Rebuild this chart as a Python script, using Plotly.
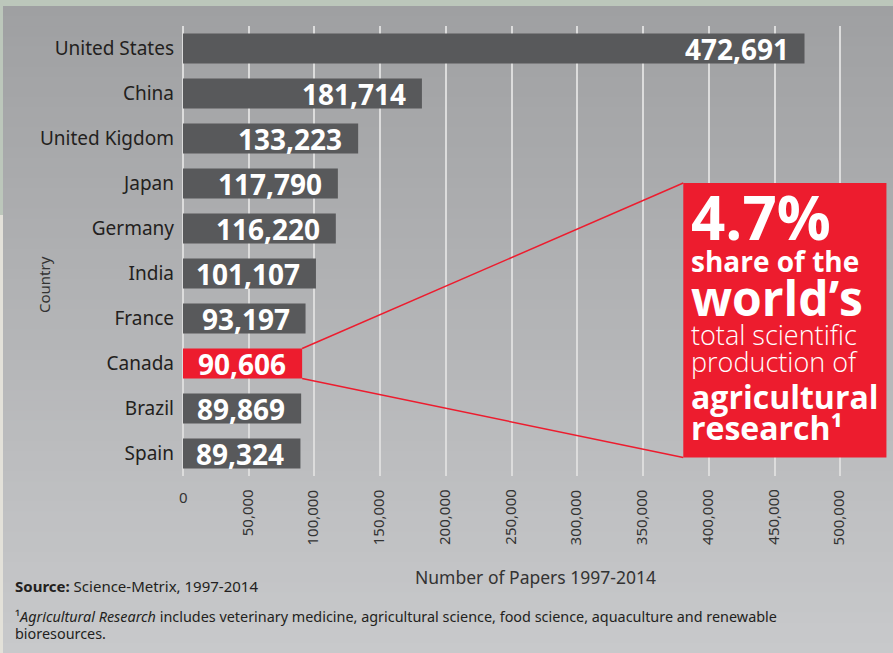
import plotly.graph_objects as go

countries = ["United States", "China", "United Kigdom", "Japan", "Germany",
             "India", "France", "Canada", "Brazil", "Spain"]
papers = [472691, 181714, 133223, 117790, 116220, 101107, 93197, 90606, 89869, 89324]
highlight = "Canada"
tick_vals = [0, 50000, 100000, 150000, 200000, 250000, 300000, 350000, 400000, 450000, 500000]
tick_text = ["0", "50,000", "100,000", "150,000", "200,000", "250,000",
             "300,000", "350,000", "400,000", "450,000", "500,000"]
callout_lines = [
    ("4.7%", 60, 700),
    ("share of the", 28, 700),
    ("world’s", 48, 700),
    ("total scientific", 27, 300),
    ("production of", 27, 300),
    ("agricultural", 32, 700),
    ("research¹", 32, 700),
]

W, H = 893, 653
L, R, T, B = 183, 0, 26, 177
PW, PH = W - L - R, H - T - B
XMAX = 540000


def fx(px):
    return (px - L) / PW


def fy(py):
    return (H - B - py) / PH


GRAY = "#58595b"
RED = "#ed1c2e"
bar_colors = [RED if c == highlight else GRAY for c in countries]
BOLD_FONT = "Open Sans, Lato, sans-serif"
TXT_FONT = "Noto Sans, Open Sans, sans-serif"

fig = go.Figure()
fig.add_trace(go.Bar(
    x=papers, y=countries, orientation="h", width=0.667,
    marker=dict(color=bar_colors, line=dict(width=0)),
    hoverinfo="skip",
))

shapes = []
# left edge strip (outer page)
shapes.append(dict(type="rect", xref="paper", yref="paper", layer="below",
                   x0=fx(-2), x1=fx(3), y0=fy(215), y1=fy(H + 2),
                   line=dict(width=0), fillcolor="#e3e1d9"))
# gradient background panel
n = 64
top_c = (159, 160, 162)
bot_c = (200, 201, 203)
y_start, y_end = 6, H
step = (y_end - y_start) / n
for i in range(n):
    t = i / (n - 1)
    c = tuple(round(top_c[k] + (bot_c[k] - top_c[k]) * t) for k in range(3))
    shapes.append(dict(type="rect", xref="paper", yref="paper", layer="below",
                       x0=fx(3), x1=fx(W + 2),
                       y0=fy(y_start + i * step), y1=fy(y_start + (i + 1) * step + 1),
                       line=dict(width=0), fillcolor="rgb(%d,%d,%d)" % c))

# callout box and connector lines
ci = countries.index(highlight)
cv = papers[ci]
box_x0, box_x1 = 380500, 535000
box_y0, box_y1 = 2.99, 9.09
shapes.append(dict(type="rect", xref="x", yref="y", x0=box_x0, x1=box_x1,
                   y0=box_y0, y1=box_y1, fillcolor=RED, line=dict(width=0), layer="above"))
shapes.append(dict(type="line", xref="x", yref="y", x0=cv, y0=ci - 0.333,
                   x1=box_x0, y1=box_y0, line=dict(color=RED, width=1.5)))
shapes.append(dict(type="line", xref="x", yref="y", x0=cv, y0=ci + 0.333,
                   x1=box_x0, y1=box_y1, line=dict(color=RED, width=1.5)))

annotations = []
# value labels
for c, v in zip(countries, papers):
    annotations.append(dict(x=v, y=c, xref="x", yref="y", text=f"{v:,}",
                            xanchor="right", yanchor="middle", xshift=-14, showarrow=False,
                            font=dict(family=BOLD_FONT, size=28, color="white", weight=700)))
# x tick labels
for v, t in zip(tick_vals, tick_text):
    if v == 0:
        annotations.append(dict(x=v, y=fy(485), xref="x", yref="paper", text=t,
                                xanchor="center", yanchor="top", showarrow=False,
                                font=dict(family=TXT_FONT, size=15, color="#333333")))
    else:
        annotations.append(dict(x=v, y=fy(487), xref="x", yref="paper", text=t,
                                textangle=-90, xanchor="center", yanchor="top", xshift=-2,
                                showarrow=False,
                                font=dict(family=TXT_FONT, size=15, color="#333333")))
# axis titles
annotations.append(dict(x=fx(535), y=fy(577), xref="paper", yref="paper",
                        text="Number of Papers 1997-2014", showarrow=False,
                        xanchor="center", yanchor="middle",
                        font=dict(family=TXT_FONT, size=17.5, color="#333333")))
annotations.append(dict(x=fx(44), y=fy(285), xref="paper", yref="paper",
                        text="Country", textangle=-90, showarrow=False,
                        xanchor="center", yanchor="middle",
                        font=dict(family=TXT_FONT, size=15, color="#333333")))
# source and footnote
annotations.append(dict(x=fx(13), y=fy(586), xref="paper", yref="paper",
                        text="<b>Source:</b> Science-Metrix, 1997-2014", showarrow=False,
                        xanchor="left", yanchor="middle",
                        font=dict(family=TXT_FONT, size=15, color="#231f20")))
annotations.append(dict(x=fx(13), y=fy(616), xref="paper", yref="paper",
                        text="¹<i>Agricultural Research</i> includes veterinary medicine, "
                             "agricultural science, food science, aquaculture and renewable",
                        showarrow=False, xanchor="left", yanchor="middle",
                        font=dict(family=TXT_FONT, size=14.4, color="#231f20")))
annotations.append(dict(x=fx(13), y=fy(633), xref="paper", yref="paper",
                        text="bioresources.", showarrow=False, xanchor="left", yanchor="middle",
                        font=dict(family=TXT_FONT, size=14.4, color="#231f20")))
# callout text
line_y = [217, 261, 297, 334, 361, 396, 427]
for (txt, sz, wt), py in zip(callout_lines, line_y):
    annotations.append(dict(x=fx(689), y=fy(py), xref="paper", yref="paper", text=txt,
                            showarrow=False, xanchor="left", yanchor="middle",
                            font=dict(family=BOLD_FONT, size=sz, color="white", weight=wt)))

fig.update_layout(
    width=W, height=H,
    margin=dict(l=L, r=R, t=T, b=B, autoexpand=False),
    paper_bgcolor="#bcc7bb",
    plot_bgcolor="rgba(0,0,0,0)",
    showlegend=False,
    shapes=shapes,
    annotations=annotations,
    xaxis=dict(range=[0, XMAX], tickmode="array", tickvals=tick_vals,
               showticklabels=False, showgrid=True, gridcolor="#dcdcdc", gridwidth=1.5,
               zeroline=True, zerolinecolor="#dcdcdc", zerolinewidth=1.5,
               showline=False, ticks="", fixedrange=True),
    yaxis=dict(categoryorder="array", categoryarray=countries, range=[9.5, -0.5],
               showgrid=False, zeroline=False, ticks="", ticklabelstandoff=8,
               tickfont=dict(family=TXT_FONT, size=19, color="#231f20"),
               fixedrange=True),
    bargap=0.33,
)

fig.write_html("out.html", config={"displayModeBar": False},
               post_script="document.body.style.margin='0px';")
